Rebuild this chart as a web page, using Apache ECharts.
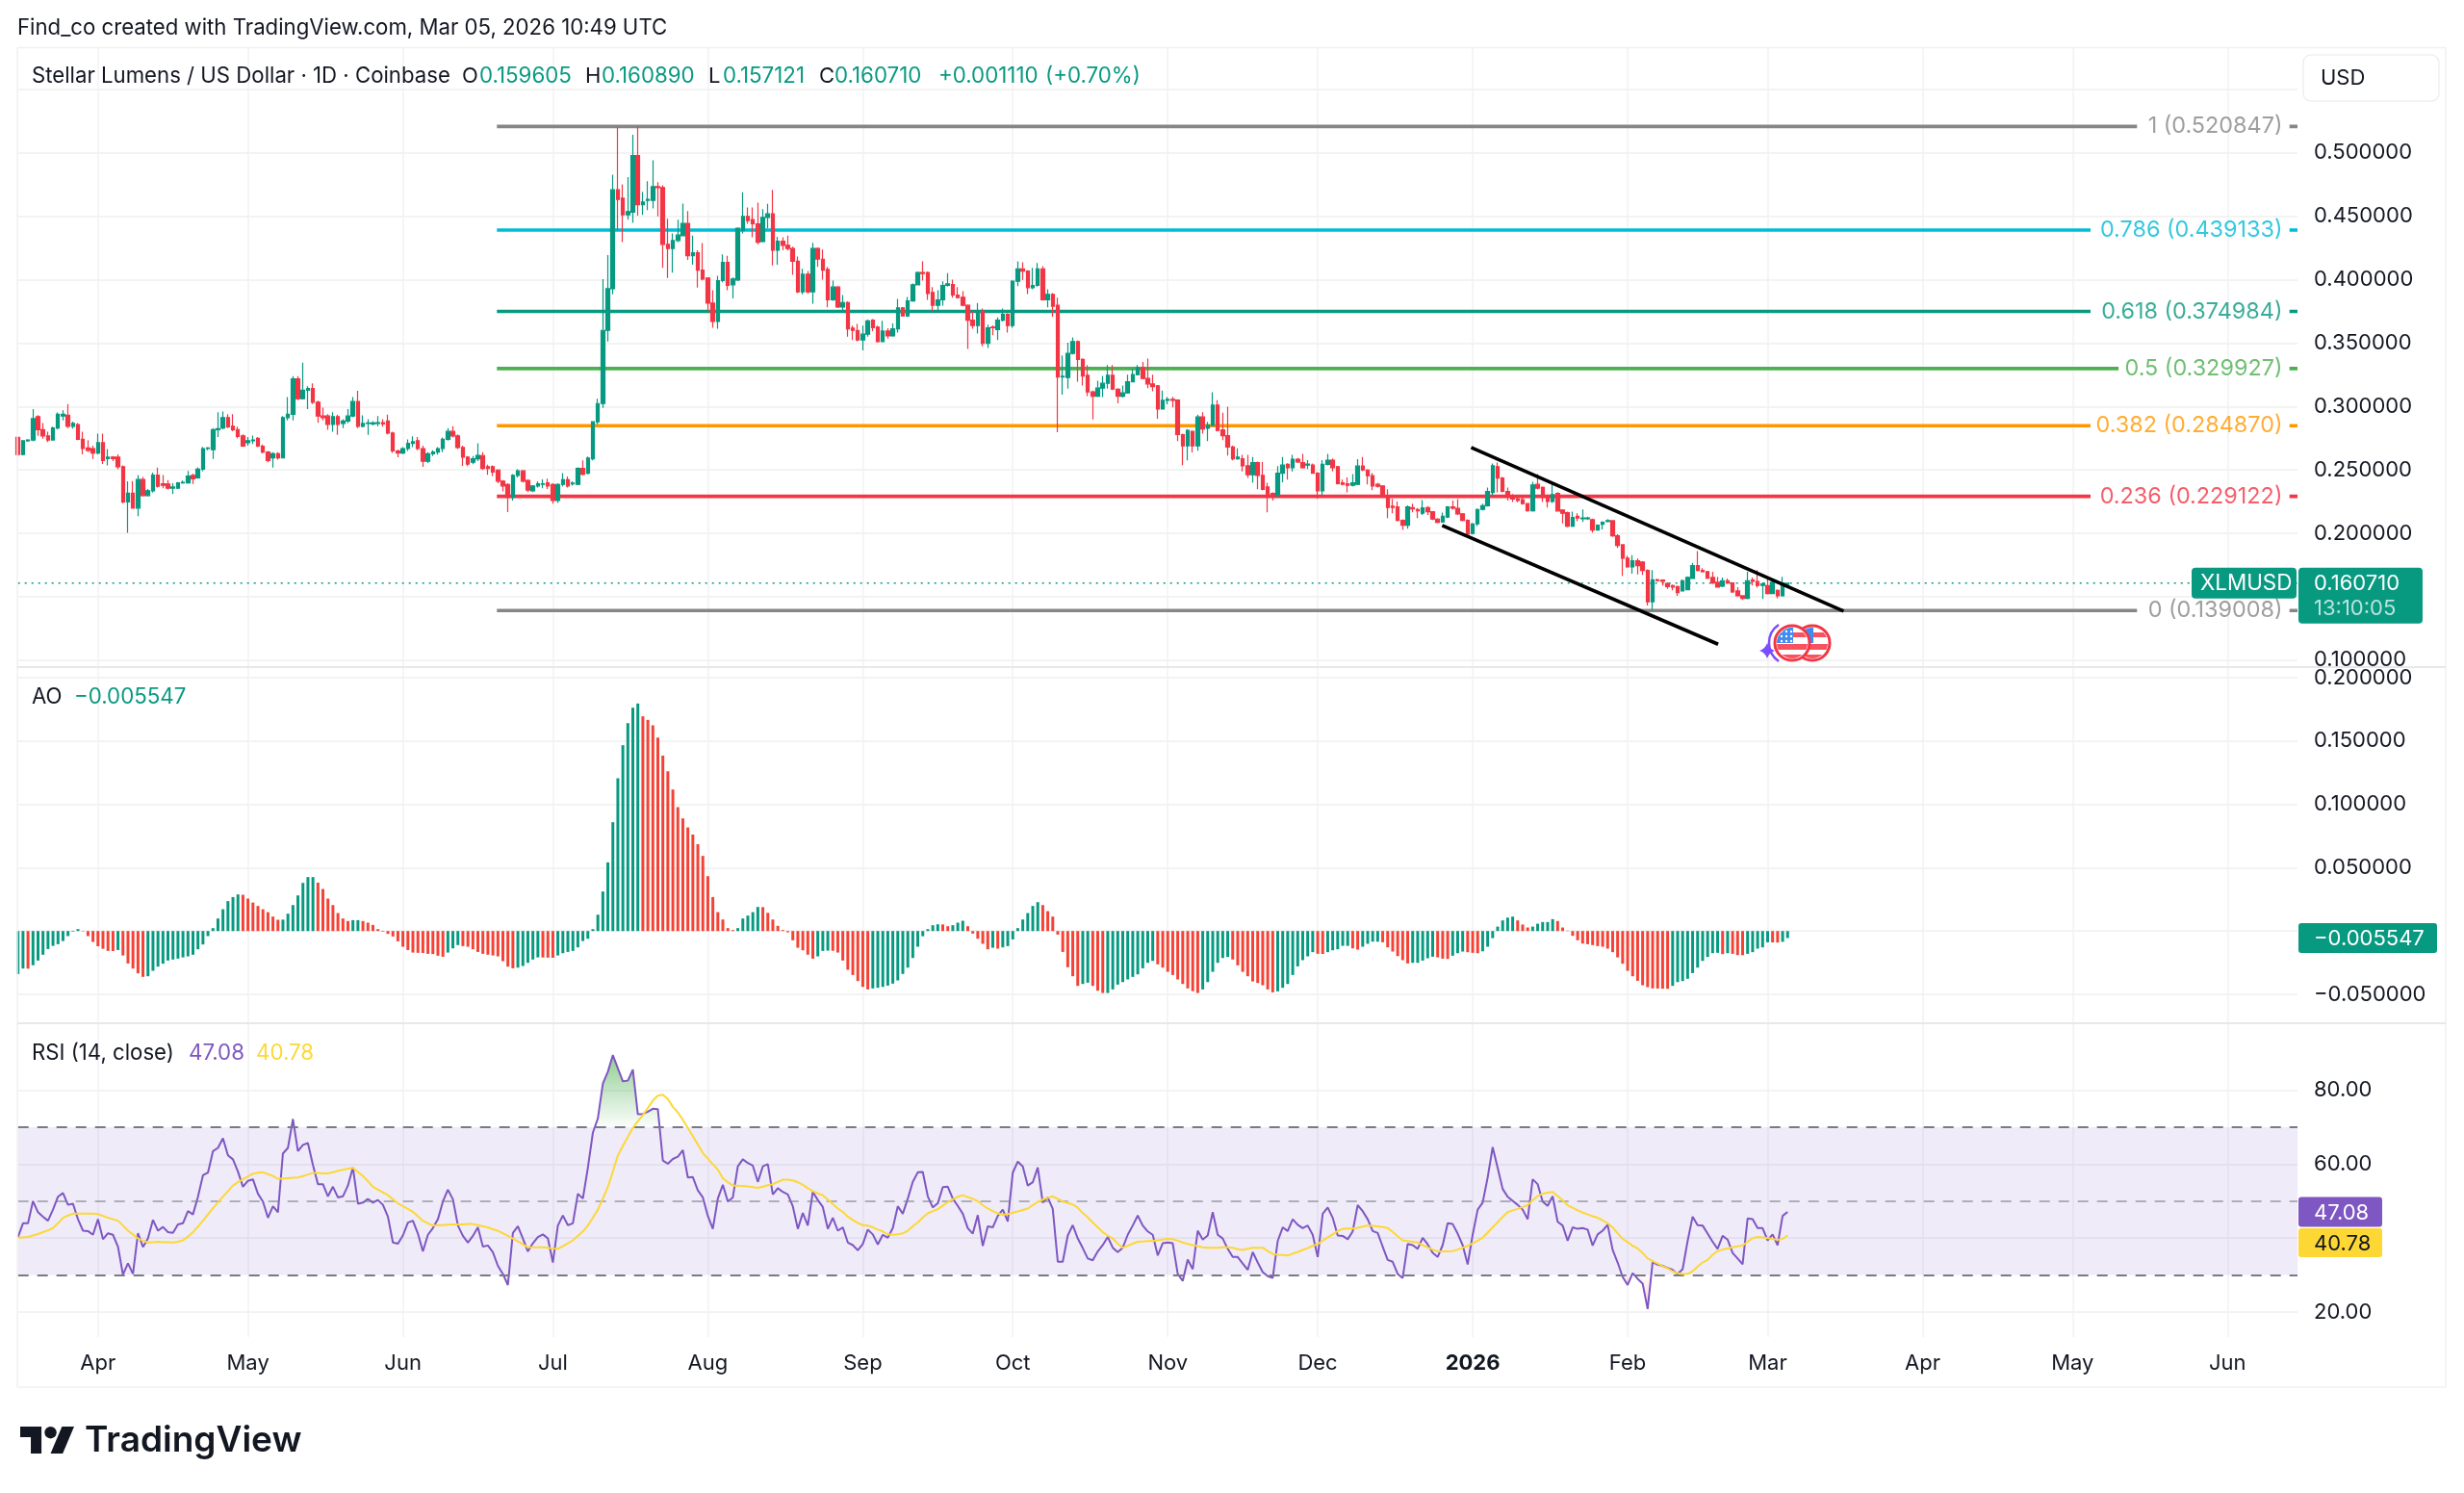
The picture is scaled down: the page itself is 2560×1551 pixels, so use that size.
<!DOCTYPE html>
<html>
<head>
<meta charset="utf-8">
<title>XLMUSD daily</title>
<style>
html,body{margin:0;padding:0;background:#fff}
#chart{width:2560px;height:1551px}
</style>
<script src="https://cdn.jsdelivr.net/npm/echarts@6/dist/echarts.min.js"></script>
</head>
<body>
<div id="chart"></div>
<script>
// Daily candles: [open, close, low, high]. Slot 0 is 16 Mar 2025.
const candlesMar25 = [
[.2757,.2622,.2611,.2763],[.2622,.2730,.2615,.2735],[.2730,.2736,.2722,.2742],[.2736,.2904,.2725,.2980],
[.2920,.2817,.2768,.2931],[.2817,.2768,.2745,.2870],[.2768,.2736,.2720,.2800],[.2736,.2831,.2733,.2840],
[.2831,.2939,.2820,.2953],[.2925,.2939,.2890,.2970],[.2931,.2844,.2830,.3020],[.2844,.2866,.2825,.2880],
[.2858,.2741,.2735,.2870],[.2741,.2668,.2622,.2800],[.2673,.2654,.2640,.2735],[.2668,.2633,.2587,.2690]];
const candlesApr25 = [
[.2633,.2714,.2622,.2785],[.2714,.2573,.2546,.2785],[.2590,.2600,.2535,.2665],[.2600,.2590,.2570,.2610],
[.2600,.2524,.2505,.2622],[.2524,.2248,.2235,.2535],[.2248,.2316,.2004,.2410],[.2316,.2199,.2193,.2411],
[.2199,.2424,.2134,.2459],[.2424,.2297,.2290,.2445],[.2297,.2335,.2290,.2350],[.2335,.2459,.2320,.2478],
[.2459,.2370,.2360,.2519],[.2390,.2378,.2355,.2460],[.2389,.2356,.2345,.2420],[.2356,.2365,.2310,.2395],
[.2356,.2397,.2350,.2405],[.2397,.2402,.2390,.2415],[.2397,.2451,.2390,.2492],[.2456,.2429,.2389,.2470],
[.2437,.2505,.2430,.2520],[.2505,.2668,.2490,.2682],[.2668,.2673,.2655,.2680],[.2660,.2817,.2587,.2830],
[.2817,.2825,.2760,.2955],[.2831,.2912,.2820,.2960],[.2912,.2839,.2830,.2940],[.2844,.2817,.2805,.2939],
[.2817,.2763,.2750,.2840],[.2768,.2687,.2682,.2780]];
const candlesMay25 = [
[.2714,.2730,.2690,.2760],[.2730,.2736,.2705,.2770],[.2749,.2687,.2680,.2760],[.2687,.2641,.2630,.2700],
[.2641,.2573,.2560,.2650],[.2595,.2627,.2519,.2640],[.2627,.2595,.2580,.2640],[.2595,.2912,.2590,.2925],
[.2912,.2939,.2890,.3075],[.2939,.3218,.2890,.3240],[.3218,.3061,.3050,.3240],[.3061,.3129,.3055,.3345],
[.3129,.3142,.2980,.3160],[.3142,.3034,.3020,.3183],[.3034,.2925,.2871,.3045],[.2925,.2912,.2890,.2990],
[.2925,.2858,.2817,.2940],[.2858,.2920,.2800,.2955],[.2920,.2858,.2776,.2935],[.2866,.2885,.2830,.2900],
[.2885,.2925,.2870,.2980],[.2925,.3039,.2915,.3075],[.3039,.2844,.2830,.3123],[.2844,.2866,.2835,.2930],
[.2866,.2870,.2776,.2900],[.2862,.2870,.2850,.2885],[.2866,.2872,.2845,.2925],[.2872,.2862,.2840,.2900],
[.2885,.2790,.2780,.2935],[.2790,.2649,.2633,.2800],[.2649,.2633,.2600,.2660]];
const candlesJun25 = [
[.2633,.2668,.2625,.2680],[.2668,.2709,.2650,.2740],[.2709,.2722,.2680,.2765],[.2730,.2668,.2655,.2760],
[.2668,.2568,.2524,.2690],[.2568,.2627,.2555,.2640],[.2627,.2641,.2610,.2655],[.2641,.2668,.2620,.2680],
[.2668,.2741,.2640,.2755],[.2741,.2803,.2730,.2830],[.2803,.2768,.2755,.2844],[.2768,.2676,.2665,.2780],
[.2676,.2600,.2532,.2690],[.2600,.2546,.2530,.2610],[.2560,.2587,.2545,.2610],[.2587,.2614,.2570,.2709],
[.2613,.2512,.2500,.2640],[.2525,.2512,.2462,.2540],[.2525,.2482,.2451,.2535],[.2499,.2411,.2395,.2505],
[.2411,.2373,.2330,.2420],[.2385,.2284,.2167,.2395],[.2284,.2456,.2259,.2466],[.2456,.2492,.2440,.2505],
[.2492,.2411,.2400,.2500],[.2416,.2340,.2325,.2425],[.2335,.2373,.2325,.2380],[.2373,.2391,.2360,.2410],
[.2386,.2391,.2355,.2425],[.2398,.2373,.2350,.2430]];
const candlesJul25 = [
[.2385,.2259,.2234,.2395],[.2259,.2385,.2240,.2395],[.2386,.2423,.2370,.2474],[.2423,.2373,.2360,.2448],
[.2390,.2395,.2375,.2410],[.2386,.2512,.2380,.2520],[.2512,.2466,.2455,.2575],[.2474,.2593,.2465,.2606],
[.2588,.2879,.2575,.2885],[.2879,.3023,.2860,.3061],[.3023,.3600,.2988,.4005],[.3600,.3929,.3512,.4195],
[.3929,.4709,.3884,.4828],[.4709,.4633,.4385,.5200],[.4643,.4512,.4296,.4752],[.4512,.4537,.4474,.4810],
[.4532,.4980,.4448,.5144],[.4980,.4592,.4506,.5208],[.4592,.4613,.4512,.4694],[.4625,.4633,.4549,.4777],
[.4625,.4734,.4562,.4942],[.4734,.4727,.4499,.4770],[.4727,.4279,.4094,.4744],[.4279,.4246,.4013,.4481],
[.4246,.4309,.4056,.4365],[.4309,.4352,.4296,.4474],[.4347,.4443,.4347,.4600],[.4443,.4190,.4157,.4542],
[.4190,.4213,.4119,.4347],[.4213,.4076,.3937,.4233],[.4076,.4005,.3995,.4289]];
const candlesAug25 = [
[.4013,.3815,.3752,.4020],[.3815,.3671,.3621,.3917],[.3671,.3993,.3613,.4031],[.3993,.4137,.3980,.4200],
[.4137,.3955,.3917,.4188],[.3960,.4005,.3853,.4020],[.3998,.4405,.3990,.4412],[.4390,.4499,.4365,.4689],
[.4499,.4466,.4441,.4570],[.4474,.4441,.4334,.4570],[.4441,.4296,.4279,.4608],[.4301,.4491,.4295,.4557],
[.4491,.4519,.4405,.4598],[.4519,.4233,.4112,.4709],[.4233,.4304,.4119,.4339],[.4304,.4271,.4233,.4334],
[.4271,.4246,.4230,.4347],[.4246,.4145,.4038,.4260],[.4145,.3904,.3895,.4182],[.3904,.4043,.3884,.4086],
[.4043,.3904,.3891,.4069],[.3904,.4246,.3810,.4291],[.4246,.4162,.4101,.4255],[.4162,.4076,.4000,.4238],
[.4081,.3841,.3783,.4101],[.3841,.3942,.3833,.3993],[.3942,.3785,.3777,.3950],[.3785,.3820,.3760,.3879],
[.3820,.3613,.3550,.3830],[.3618,.3600,.3524,.3638],[.3600,.3524,.3515,.3651]];
const candlesSep25 = [
[.3524,.3570,.3443,.3638],[.3570,.3676,.3550,.3685],[.3681,.3621,.3595,.3690],[.3626,.3512,.3505,.3638],
[.3512,.3595,.3508,.3676],[.3595,.3557,.3535,.3618],[.3557,.3613,.3550,.3656],[.3613,.3778,.3583,.3848],
[.3778,.3714,.3710,.3785],[.3714,.3833,.3707,.3864],[.3833,.3960,.3825,.3970],[.3960,.4056,.3955,.4065],
[.4056,.4048,.3993,.4145],[.4056,.3891,.3841,.4065],[.3899,.3798,.3747,.3942],[.3798,.3841,.3757,.3917],
[.3841,.3955,.3795,.3988],[.3955,.3967,.3945,.4051],[.3962,.3879,.3859,.4000],[.3879,.3859,.3852,.3942],
[.3861,.3798,.3790,.3909],[.3798,.3681,.3454,.3805],[.3681,.3638,.3613,.3747],[.3638,.3752,.3575,.3816],
[.3752,.3499,.3474,.3772],[.3499,.3621,.3461,.3646],[.3626,.3621,.3562,.3640],[.3606,.3681,.3524,.3702],
[.3681,.3727,.3670,.3772],[.3727,.3638,.3583,.3735]];
const candlesOct25 = [
[.3638,.3988,.3621,.3995],[.3988,.4086,.3950,.4145],[.4086,.4068,.3998,.4137],[.4068,.3937,.3886,.4075],
[.3937,.3955,.3925,.4094],[.3955,.4086,.3945,.4132],[.4086,.3841,.3835,.4106],[.3841,.3884,.3782,.3925],
[.3884,.3790,.3709,.3895],[.3798,.3233,.2798,.3858],[.3233,.3238,.3094,.3403],[.3228,.3418,.3140,.3504],
[.3418,.3512,.3410,.3545],[.3512,.3372,.3195,.3520],[.3372,.3241,.3165,.3380],[.3246,.3115,.3081,.3327],
[.3115,.3081,.2897,.3125],[.3081,.3145,.3075,.3203],[.3145,.3183,.3074,.3241],[.3183,.3246,.3140,.3327],
[.3246,.3137,.3130,.3327],[.3137,.3081,.3024,.3145],[.3081,.3107,.3070,.3165],[.3107,.3195,.3100,.3251],
[.3195,.3251,.3190,.3297],[.3251,.3307,.3245,.3327],[.3307,.3221,.3215,.3352],[.3221,.3178,.3145,.3378],
[.3178,.3157,.3119,.3251],[.3163,.2980,.2904,.3170],[.2980,.3048,.2975,.3125]];
const candlesNov25 = [
[.3048,.3056,.3018,.3074],[.3056,.3048,.2993,.3076],[.3051,.2778,.2727,.3058],[.2778,.2689,.2537,.2785],
[.2689,.2811,.2575,.2821],[.2803,.2689,.2638,.2810],[.2689,.2917,.2651,.2935],[.2917,.2823,.2785,.2955],
[.2828,.2854,.2727,.2879],[.2849,.3011,.2845,.3112],[.3011,.2811,.2803,.3049],[.2816,.2770,.2735,.2950],
[.2770,.2681,.2613,.2998],[.2681,.2588,.2575,.2690],[.2588,.2601,.2580,.2669],[.2588,.2532,.2487,.2619],
[.2532,.2461,.2436,.2619],[.2461,.2558,.2398,.2601],[.2558,.2456,.2347,.2565],[.2456,.2347,.2340,.2563],
[.2365,.2309,.2165,.2398],[.2314,.2297,.2259,.2322],[.2297,.2474,.2290,.2530],[.2474,.2538,.2403,.2601],
[.2543,.2517,.2423,.2552],[.2517,.2584,.2487,.2619],[.2584,.2563,.2555,.2594],[.2558,.2517,.2510,.2627],
[.2538,.2545,.2507,.2576],[.2538,.2474,.2468,.2550]];
const candlesDec25 = [
[.2474,.2335,.2272,.2482],[.2335,.2543,.2297,.2576],[.2543,.2576,.2535,.2627],[.2576,.2517,.2487,.2590],
[.2525,.2391,.2386,.2532],[.2398,.2386,.2378,.2423],[.2391,.2378,.2322,.2441],[.2378,.2398,.2370,.2467],
[.2386,.2530,.2380,.2584],[.2530,.2499,.2490,.2601],[.2499,.2454,.2386,.2505],[.2454,.2373,.2340,.2474],
[.2386,.2370,.2360,.2398],[.2373,.2297,.2290,.2380],[.2297,.2203,.2119,.2348],[.2213,.2203,.2157,.2272],
[.2208,.2101,.2095,.2251],[.2101,.2063,.2026,.2110],[.2063,.2208,.2036,.2221],[.2203,.2193,.2165,.2233],
[.2188,.2178,.2120,.2200],[.2158,.2200,.2145,.2261],[.2203,.2170,.2145,.2215],[.2170,.2112,.2105,.2175],
[.2112,.2087,.2080,.2120],[.2089,.2133,.2083,.2163],[.2128,.2208,.2120,.2215],[.2208,.2198,.2185,.2259],
[.2196,.2153,.2145,.2269],[.2153,.2101,.2095,.2160],[.2101,.1994,.1976,.2110]];
const candlesJan26 = [
[.1998,.2074,.1990,.2082],[.2074,.2188,.2056,.2195],[.2188,.2218,.2180,.2233],[.2218,.2330,.2210,.2360],
[.2322,.2532,.2297,.2550],[.2525,.2436,.2322,.2558],[.2436,.2330,.2322,.2445],[.2330,.2289,.2259,.2360],
[.2297,.2271,.2246,.2310],[.2271,.2259,.2245,.2285],[.2264,.2234,.2225,.2290],[.2234,.2178,.2170,.2240],
[.2178,.2381,.2170,.2406],[.2386,.2356,.2345,.2467],[.2361,.2284,.2246,.2370],[.2297,.2251,.2203,.2305],
[.2251,.2305,.2240,.2386],[.2315,.2176,.2170,.2325],[.2183,.2158,.2077,.2190],[.2163,.2056,.2048,.2170],
[.2056,.2125,.2050,.2170],[.2133,.2120,.2095,.2158],[.2115,.2120,.2089,.2188],[.2115,.2120,.2105,.2130],
[.2107,.2026,.2006,.2115],[.2026,.2063,.2020,.2070],[.2071,.2087,.2031,.2095],[.2094,.2099,.2085,.2112],
[.2099,.1980,.1972,.2105],[.1980,.1904,.1884,.1992],[.1909,.1803,.1664,.1915]];
const candlesFeb26 = [
[.1803,.1735,.1728,.1823],[.1735,.1783,.1681,.1828],[.1783,.1745,.1676,.1803],[.1773,.1707,.1671,.1780],
[.1707,.1459,.1431,.1715],[.1459,.1633,.1393,.1709],[.1633,.1626,.1620,.1642],[.1631,.1621,.1588,.1638],
[.1605,.1580,.1562,.1612],[.1588,.1575,.1550,.1595],[.1580,.1532,.1507,.1587],[.1545,.1626,.1540,.1635],
[.1555,.1651,.1550,.1660],[.1644,.1745,.1640,.1766],[.1745,.1707,.1700,.1859],[.1707,.1697,.1690,.1725],
[.1697,.1646,.1640,.1703],[.1651,.1608,.1600,.1697],[.1613,.1575,.1570,.1656],[.1583,.1626,.1575,.1651],
[.1626,.1608,.1600,.1644],[.1608,.1537,.1530,.1615],[.1545,.1507,.1500,.1575],[.1507,.1487,.1474,.1512],
[.1487,.1626,.1480,.1697],[.1631,.1621,.1588,.1651],[.1619,.1588,.1570,.1709],[.1588,.1601,.1482,.1612]];
const candlesMar26 = [
[.1588,.1525,.1518,.1644],[.1525,.1613,.1520,.1625],[.1550,.1507,.1487,.1558],[.1507,.1606,.1500,.1656],
[.159605,.160710,.157121,.160890]];

const fibRatios = ['1','0.786','0.618','0.5','0.382','0.236','0'];
const fibLevels = [0.520847,0.439133,0.374984,0.329927,0.284870,0.229122,0.139008];
const fibColors = ['#868686','#00bcd4','#089981','#4caf50','#ff9800','#f23645','#868686'];
const fibStartSlot = 95.8;
const fibEndSlots = [423.9,414.6,414.6,420.2,414.6,414.6,423.9];

const channelUpper = [[290.7,.2677],[365.2,.1386]];
const channelLower = [[284.9,.2061],[340.1,.1125]];

const lastClose = 0.160710;

const aoValues = [
-.034,-.0296,-.0297,-.027,-.0233,-.0187,-.0142,-.0117,-.0104,-.0079,-.004,-.0005,.0015,-.0003,-.004,-.0086,-.012,-.014,-.0157,-.0158,
-.015,-.0193,-.0256,-.0296,-.0334,-.0362,-.0357,-.0314,-.0281,-.0258,-.0233,-.0225,-.0218,-.0208,-.02,-.0187,-.0144,-.0106,-.004,.0023,
.0099,.0172,.0236,.0268,.0289,.0286,.0256,.0225,.0198,.0172,.0149,.0114,.0089,.009,.0137,.0205,.0281,.038,.0426,.0426,
.0382,.0332,.0256,.0205,.0142,.0099,.0079,.0086,.0086,.0079,.0066,.0048,.0015,-.0005,-.0023,-.0043,-.0081,-.0124,-.015,-.017,
-.0172,-.0173,-.018,-.0182,-.0195,-.0203,-.017,-.0137,-.0111,-.0119,-.0124,-.0144,-.0165,-.018,-.0187,-.0193,-.02,-.0238,-.0281,-.0294,
-.0289,-.0276,-.0251,-.0225,-.0208,-.0209,-.021,-.0211,-.0193,-.0175,-.0165,-.0157,-.0129,-.0079,-.0061,.0015,.0129,.0312,.0542,.0859,
.1206,.1467,.1641,.1763,.1796,.1695,.1667,.1624,.1527,.1385,.1261,.1117,.0978,.0889,.0818,.0762,.0686,.0593,.0433,.0268,
.0149,.0091,.0023,.0008,.0023,.0099,.0122,.0149,.019,.0189,.0144,.0091,.0041,.0008,-.001,-.0073,-.0132,-.0152,-.0187,-.0218,
-.02,-.0157,-.0155,-.0156,-.017,-.0233,-.0306,-.0347,-.0395,-.0441,-.0461,-.0453,-.0448,-.0441,-.0431,-.0415,-.039,-.0339,-.0289,-.0213,
-.0124,-.0041,.0015,.0046,.0053,.0052,.0038,.0046,.0066,.0081,.0038,-.002,-.0061,-.0101,-.0144,-.0132,-.0139,-.0129,-.0119,-.0066,
.0023,.0091,.0142,.0198,.0228,.0205,.0157,.0114,-.0028,-.0165,-.0286,-.0357,-.0433,-.0418,-.0408,-.0433,-.0471,-.0489,-.0489,-.0461,
-.0423,-.0403,-.0382,-.0362,-.0342,-.0294,-.0251,-.0236,-.0263,-.0289,-.0322,-.0347,-.0382,-.0418,-.0453,-.0474,-.0489,-.0461,-.0403,-.0322,
-.0251,-.0213,-.0205,-.0225,-.0271,-.0322,-.0357,-.0398,-.041,-.0428,-.0461,-.0484,-.0476,-.0448,-.0418,-.0347,-.0279,-.023,-.02,-.0167,
-.018,-.0181,-.0167,-.0152,-.0144,-.0117,-.0117,-.0137,-.0147,-.0124,-.0101,-.0084,-.0084,-.0089,-.0129,-.0162,-.0198,-.023,-.0256,-.0251,
-.0251,-.0233,-.0215,-.0203,-.0208,-.0218,-.022,-.0195,-.0175,-.0162,-.0167,-.0172,-.0175,-.016,-.0124,-.0056,.0035,.0084,.0106,.0114,
.0084,.0051,.0028,.0035,.0058,.0071,.0071,.0094,.0079,.0028,.0003,-.0038,-.0073,-.0099,-.0104,-.0111,-.0119,-.0124,-.0139,-.0167,
-.0208,-.0258,-.0314,-.0357,-.0393,-.0428,-.0443,-.0453,-.0454,-.0455,-.0456,-.0433,-.0403,-.0395,-.0377,-.0332,-.0289,-.0236,-.0205,-.0175,
-.0172,-.0182,-.0175,-.018,-.019,-.0191,-.018,-.0167,-.0139,-.0129,-.0089,-.009,-.0091,-.0085,-.005547];

const rsiValues = [
40.3,44,44,50,47,45.8,44.7,47.7,51.2,52.2,49,49.3,45.1,42,41.9,40.9,45.1,39.7,41.3,40.9,
37.7,30.1,33.2,30.3,41.3,37.6,39.9,44.9,42,43,41.6,41.4,43.7,44,47.3,46.4,51.2,57,57.7,63.5,
64.4,67,62.4,61.3,58,53.9,55.5,55.9,52,49.9,45.5,48.6,47,62.9,64.4,72.2,63.5,65.2,65.7,59.8,
54.6,54.6,51.3,53.9,51,51.3,54.2,59.1,49.3,49.6,50.6,49.6,50.3,49,45.8,38.8,38.5,40.7,44.2,44.7,
41.2,36.4,40.9,42.7,45.1,49.9,53.1,50.5,43.4,40.6,38.8,40.6,42.9,37.7,38,36.2,32.5,30.3,27.3,41.4,
43.2,39.9,36.4,38.6,40.3,41,39.9,33.4,43.4,46.1,43.5,44,52,50.7,59,68.5,72.4,81.8,85,89.5,
85.9,82.4,82.6,85.6,73.5,73.6,74.2,75,74.9,61,60.1,61.4,62,63.8,56.4,56.5,52.9,51,46,42.5,
50.7,54.4,49.9,51,59.4,61.3,60.3,59.6,55.2,59.4,60,51.8,53.5,52.5,51.8,48.6,42.5,46.8,43.4,52.5,
50.3,48.4,42.5,45.5,42,42.9,38.8,38.1,36.7,38.4,42.3,41,38.3,40.9,40.1,42.7,48.6,46.6,50.7,55.2,
57.8,57.9,51.3,48.3,49.4,53.8,53.9,50.7,48.7,46.6,42.7,41.2,46.2,37.9,43.2,42.9,46,47.7,44.5,57.7,
60.7,59.4,54.2,55.1,59.1,49.6,51,47.9,33.6,33.6,40.7,43.5,39.9,37.3,34.5,34,36.4,38.1,40.3,37.4,
36.2,37.4,40.9,43.4,46.1,43.4,41.8,40.9,35.3,38.6,38.8,38.6,30.3,28.4,34.2,31.6,42,39.6,40.7,47,
40.9,39.9,37.1,34.9,34.9,33.1,31.4,36.2,33.4,30.8,29.7,29.2,39.2,42.9,41.9,45.1,43.6,42.7,43.4,40.9,
34.9,46.6,48.3,45.5,40.7,40.6,39.7,41.8,48.9,47.3,45.1,41.9,41.4,37.7,34.1,33.6,30.3,29.2,38.4,38.1,
37.1,40.1,38.3,36,34.9,38.1,44,43.8,41.2,38.1,32.9,40.9,47.7,49.6,56.4,64.6,59,53.3,51.2,50.1,
49,47.7,45.1,55.9,54.6,49.9,48.7,51.3,44.4,43.4,39.3,42.9,42.5,42.7,42.3,38,41,42,43.6,36.8,
33.4,29.5,27.3,30.5,29,27.7,20.8,33.5,32.8,32.5,31.9,31.4,30.3,31.6,39.2,45.8,43.5,43.4,41.2,39,
37.1,40.6,39.6,36,34.5,32.9,45.3,45.1,42.7,42.7,39.4,41,38.1,46,47.08];

const rsiAverage = [
40.05,40.2,40.3,40.7,41.1,41.6,42.1,42.7,44,45.5,46.1,
46.6,46.6,46.6,46.6,46.6,46.5,46,45.5,45.1,44.7,
43.4,42,41,39.9,39.3,38.8,38.9,39,38.9,38.9,
38.8,39,39.4,40.4,41.6,43.1,44.7,46.4,48.1,49.6,
51.2,52.7,54.2,55.1,55.9,56.7,57.4,57.7,57.8,57.3,
56.8,56,56.1,56.2,56.3,56.4,56.8,57.2,57.6,57.6,
57.5,57.5,57.8,58.2,58.5,58.8,59,57.9,56.8,55.4,
53.9,53.1,52.4,51.6,50.5,49.4,48.6,47.9,47.1,45.9,
44.7,44,43.4,43.5,43.5,43.6,43.7,43.7,43.7,43.8,
43.8,43.5,43.2,42.9,42.4,42,41.3,40.6,39.9,39.1,
38.3,37.5,37.5,37.5,37.5,37.4,37.2,37.1,37.8,38.6,
39.4,40.6,41.8,43.4,45.5,47.7,50.7,53.8,58,62.4,
64.9,67.4,69.8,71.6,73.3,75.2,77.2,78.5,78.8,77.6,
75.5,74,72,69.8,67.6,65.3,63,61.5,60,58.5,
56.2,55.1,54.2,54.2,54.1,54,53.8,53.6,53.9,54.3,
54.6,55.2,55.8,55.8,55.6,55.1,54.4,53.5,52.7,52.1,
51.6,50.4,49.2,48,47.1,45.8,44.9,44.1,43.5,43.4,
42.9,42.3,41.8,41,40.9,41,41.3,42,43.2,44.2,
45.6,46.7,47.3,47.8,48.8,49.7,50.5,51.2,51.6,51.1,
50.6,50,48.9,48,47.3,46.7,46.3,46.5,46.9,47.2,
47.6,48,48.9,49.8,50.4,50.9,51.3,50.6,49.9,49.5,
49.1,48.2,46.8,45.6,44.2,42.9,41.6,40.7,39.9,38.5,
37.4,37.9,38.5,39,39.1,39.2,39.2,39.4,39.6,39.8,
39.7,39.3,38.8,38.4,38.1,37.8,37.5,37.4,37.4,37.4,
37.5,37.5,37.4,37,36.8,37.1,37.4,37.4,37.4,36.5,
35.7,35.5,35.4,35.3,35.8,36.2,36.8,37.3,37.9,38.4,
39.3,40.2,41,41.9,42.5,42.6,42.6,42.8,43.1,43.4,
43.3,43.2,43,42.7,41.7,40.5,39.4,39.2,39,38.8,
38.1,37.5,36.9,36.4,36.4,36.4,36.5,36.9,37.4,37.9,
38.6,39.3,40.1,41.5,42.9,44.3,45.7,47,47.5,47.9,
48.4,48.9,50.2,51.4,52,52.3,52.5,51.4,50.2,48.9,
48.2,47.5,46.9,46.4,45.9,45.5,44.8,44,42.9,41.3,
39.8,38.9,37.9,37.2,36,34.5,33.8,33.1,32.4,31.8,
31,30.5,30.3,30.3,31,32.3,33.4,34.1,35.5,36.5,
36.9,37.2,37.5,37.8,38,39,40,40.3,40.2,40,
39.8,39.5,39.8,40.78];

// Month boundaries on the time scale, counted in daily slots.
const monthSlots = [16,46,77,107,138,169,199,230,260,291,322,350,381,411,442];
const monthNames = ['Apr','May','Jun','Jul','Aug','Sep','Oct','Nov','Dec','2026','Feb','Mar','Apr','May','Jun'];

const SLOT_COUNT = 456;
const UP = '#089981', DOWN = '#f23645';
const FONT = 'Inter, "Noto Sans", sans-serif';
const TEXT = '#131722';
const GRID_LINE = '#f3f3f3';

const candles = [].concat(candlesMar25,candlesApr25,candlesMay25,candlesJun25,candlesJul25,candlesAug25,
  candlesSep25,candlesOct25,candlesNov25,candlesDec25,candlesJan26,candlesFeb26,candlesMar26);

const gridBase = {left:18.7,width:2368.3,show:false};
const axisFont = {color:TEXT,fontFamily:FONT,fontSize:22,margin:17,padding:[5,0,0,0]};
const slotAxis = i => ({gridIndex:i,type:'value',min:0,max:SLOT_COUNT,show:false});
const paneY = (i,extra) => Object.assign({
  gridIndex:i,type:'value',position:'right',scale:false,
  axisLine:{show:false},axisTick:{show:false},
  splitLine:{show:true,lineStyle:{color:GRID_LINE,width:2}},
},extra);
const minus = s => s.replace('-','\u2212');

// Shaded pocket between the RSI curve and a band edge.
function rsiPocket(level,above,colors){
  return {
    type:'custom',xAxisIndex:2,yAxisIndex:2,silent:true,z:2,
    data:[[0,level]],
    renderItem(params,api){
      const children=[];
      let run=null;
      const isIn=v=>above?v>level:v<level;
      rsiValues.forEach((v,i)=>{
        if(i>0 && isIn(v)!==isIn(rsiValues[i-1])){
          const prev=rsiValues[i-1];
          const edge=api.coord([i-1+(level-prev)/(v-prev),level]);
          if(isIn(v)){
            run=[edge];
          }else if(run){
            run.push(edge);
            children.push({type:'polygon',shape:{points:run},
              style:{fill:new echarts.graphic.LinearGradient(0,0,0,1,colors)}});
            run=null;
          }
        }
        if(isIn(v)&&run) run.push(api.coord([i,v]));
      });
      return {type:'group',children};
    }
  };
}

const series = [
  {type:'candlestick',xAxisIndex:0,yAxisIndex:0,barWidth:4,z:3,
   encode:{x:0,y:[1,2,3,4]},
   itemStyle:{color:UP,color0:DOWN,borderColor:UP,borderColor0:DOWN,borderWidth:1.2},
   data:candles.map((c,i)=>[i].concat(c))},
  {type:'line',xAxisIndex:0,yAxisIndex:0,symbol:'none',silent:true,z:2,
   lineStyle:{color:UP,width:1.6,type:[2,5]},
   data:[[0,lastClose],[SLOT_COUNT,lastClose]]},
  {type:'line',xAxisIndex:0,yAxisIndex:0,symbol:'none',silent:true,z:5,
   lineStyle:{color:'#000',width:3.6},data:channelUpper},
  {type:'line',xAxisIndex:0,yAxisIndex:0,symbol:'none',silent:true,z:5,
   lineStyle:{color:'#000',width:3.6},data:channelLower},
  {type:'bar',xAxisIndex:1,yAxisIndex:1,barWidth:3,
   data:aoValues.map((v,i)=>({value:[i,v],
     itemStyle:{color:(i===0||v>=aoValues[i-1])?'#089981':'#f44336'}}))},
  {type:'line',xAxisIndex:2,yAxisIndex:2,symbol:'none',silent:true,z:4,
   lineStyle:{color:'#7e57c2',width:2},
   data:rsiValues.map((v,i)=>[i,v]),
   markArea:{silent:true,itemStyle:{color:'rgba(126,87,194,0.12)'},
     data:[[{xAxis:0,yAxis:70},{xAxis:SLOT_COUNT,yAxis:30}]]},
   markLine:{silent:true,symbol:'none',label:{show:false},
     data:[
       {yAxis:70,lineStyle:{color:'#787b86',width:2,type:[11,9]}},
       {yAxis:50,lineStyle:{color:'rgba(120,123,134,0.55)',width:2,type:[11,9]}},
       {yAxis:30,lineStyle:{color:'#787b86',width:2,type:[11,9]}}
     ]}},
  {type:'line',xAxisIndex:2,yAxisIndex:2,symbol:'none',silent:true,z:5,
   lineStyle:{color:'#fdd835',width:2},
   data:rsiAverage.map((v,i)=>[i,v])},
  rsiPocket(70,true,[{offset:0,color:'rgba(76,175,80,0.62)'},{offset:1,color:'rgba(76,175,80,0.02)'}]),
  rsiPocket(30,false,[{offset:0,color:'rgba(242,54,69,0.02)'},{offset:1,color:'rgba(242,54,69,0.22)'}])
];

// Fibonacci retracement: level line, caption and the short stub at the price scale.
fibLevels.forEach((lvl,k)=>{
  const c=fibColors[k];
  series.push({type:'line',xAxisIndex:0,yAxisIndex:0,symbol:'none',silent:true,z:1,
    lineStyle:{color:c,width:3.6},data:[[fibStartSlot,lvl],[fibEndSlots[k],lvl]]});
  series.push({type:'line',xAxisIndex:0,yAxisIndex:0,symbol:'none',silent:true,z:1,
    lineStyle:{color:c,width:3.6},data:[[454.4,lvl],[SLOT_COUNT,lvl]]});
  series.push({type:'scatter',xAxisIndex:0,yAxisIndex:0,symbolSize:0,silent:true,z:6,
    data:[[453,lvl]],
    label:{show:true,position:'left',distance:0,color:c,fontFamily:FONT,fontSize:23.4,padding:[5,0,0,0],
      formatter:`${fibRatios[k]} (${lvl.toFixed(6)})`}});
});

const chart = echarts.init(document.getElementById('chart'),null,{renderer:'canvas'});
chart.setOption({
  animation:false,
  backgroundColor:'#fff',
  grid:[
    Object.assign({},gridBase,{top:93,height:592.7}),
    Object.assign({},gridBase,{top:704,height:329}),
    Object.assign({},gridBase,{top:1086.5,height:276.5}),
    Object.assign({},gridBase,{top:50,height:1339})
  ],
  xAxis:[slotAxis(0),slotAxis(1),slotAxis(2),
    {gridIndex:3,type:'value',min:0,max:SLOT_COUNT,position:'bottom',
     axisLine:{show:false},
     axisTick:{show:false,customValues:monthSlots},
     splitLine:{show:true,lineStyle:{color:'#f2f2f4',width:1.5}},
     axisLabel:{show:true,customValues:monthSlots,color:TEXT,fontFamily:FONT,fontSize:22,margin:16,
       formatter:v=>{
         const n=monthNames[monthSlots.indexOf(v)];
         return n==='2026'?'{y|2026}':n;
       },
       rich:{y:{fontWeight:700,color:TEXT,fontFamily:FONT,fontSize:22}}}}
  ],
  yAxis:[
    paneY(0,{min:.1,max:.55,interval:.05,axisLabel:Object.assign({},axisFont,{showMaxLabel:false,formatter:v=>v.toFixed(6)})}),
    paneY(1,{min:-.05,max:.2,interval:.05,axisLabel:Object.assign({},axisFont,{formatter:v=>Math.abs(v)<1e-9?'':minus(v.toFixed(6))})}),
    paneY(2,{min:20,max:92,interval:20,splitLine:{show:true,showMaxLine:false,lineStyle:{color:GRID_LINE,width:2}},
      axisLabel:Object.assign({},axisFont,{showMaxLabel:false,formatter:v=>v.toFixed(2)})}),
    {gridIndex:3,type:'value',min:0,max:1,show:false}
  ],
  series
});

// Text helper for the chrome around the panes.
const txt=(x,y,text,fill,size,weight)=>({type:'text',z:50,silent:true,
  style:{x,y:y+1,text,fill,font:`${weight||400} ${size}px ${FONT}`,verticalAlign:'middle',align:'left'}});
const box=(x,y,w,h,fill,r,z)=>({type:'rect',z:z||40,silent:true,shape:{x,y,width:w,height:h,r:r||0},style:{fill}});
const rule=(x1,y1,x2,y2,c,w)=>({type:'line',z:30,silent:true,shape:{x1,y1,x2,y2},style:{stroke:c,lineWidth:w}});

const priceY=chart.convertToPixel({gridIndex:0},[0,lastClose])[1];
const aoLast=aoValues[aoValues.length-1];
const rsiLast=rsiValues[rsiValues.length-1];
const maLast=rsiAverage[rsiAverage.length-1];
const rsiY=chart.convertToPixel({gridIndex:2},[0,rsiLast])[1];
const aoY=chart.convertToPixel({gridIndex:1},[0,aoLast])[1];
// The two RSI tags would collide on the scale, so the lower one stacks under the upper one.
const maTagY=rsiY+32;

const badge=encodeURIComponent(`<svg xmlns="http://www.w3.org/2000/svg" width="80" height="50" viewBox="0 0 80 50">
<defs><clipPath id="a"><circle cx="55" cy="25" r="16"/></clipPath><clipPath id="b"><circle cx="34" cy="25" r="16"/></clipPath></defs>
<path d="M20 6 A23 23 0 0 0 20 44" fill="none" stroke="#7c4dff" stroke-width="2.5"/>
<path d="M8 25 Q10 31 16 33 Q10 35 8 41 Q6 35 0 33 Q6 31 8 25Z" fill="#7c4dff"/>
<g id="f"><circle cx="55" cy="25" r="18" fill="#fff" stroke="#f23645" stroke-width="3"/>
<g clip-path="url(#a)"><rect x="39" y="9" width="32" height="32" fill="#fff"/><rect x="55" y="14" width="16" height="5" fill="#f7525f"/><rect x="39" y="26" width="32" height="6" fill="#f7525f"/><rect x="39" y="37" width="32" height="5" fill="#f7525f"/><rect x="39" y="9" width="17" height="16" fill="#3f8cf0"/></g></g>
<circle cx="34" cy="25" r="18" fill="#fff" stroke="#f23645" stroke-width="3"/>
<g clip-path="url(#b)"><rect x="18" y="9" width="32" height="32" fill="#fff"/><rect x="34" y="14" width="16" height="5" fill="#f7525f"/><rect x="18" y="26" width="32" height="6" fill="#f7525f"/><rect x="18" y="37" width="32" height="5" fill="#f7525f"/><rect x="18" y="9" width="17" height="16" fill="#3f8cf0"/>
<g fill="#fff"><circle cx="23" cy="13" r="1.2"/><circle cx="28" cy="13" r="1.2"/><circle cx="33" cy="13" r="1.2"/><circle cx="23" cy="18" r="1.2"/><circle cx="28" cy="18" r="1.2"/><circle cx="33" cy="18" r="1.2"/><circle cx="23" cy="23" r="1.2"/><circle cx="28" cy="23" r="1.2"/><circle cx="33" cy="23" r="1.2"/></g></g>
</svg>`);

// Wordmark glyph drawn on a 36x18 design box.
const logoX=u=>21+u*1.577, logoY=v=>1482+(v-4)*1.556;
const logoPoly=pts=>({type:'polygon',z:40,silent:true,shape:{points:pts.map(p=>[logoX(p[0]),logoY(p[1])])},style:{fill:TEXT}});

chart.setOption({graphic:{elements:[
  // frame and pane separators
  rule(18,49.5,2541,49.5,'#f0f0f0',1.5),rule(18,49.5,18,1441,'#f0f0f0',1.5),
  rule(2541,49.5,2541,1441,'#f0f0f0',1.5),rule(18,1441,2541,1441,'#f0f0f0',1.5),
  rule(18,693,2541,693,'#e8e8e8',2),rule(18,1063,2541,1063,'#e8e8e8',2),

  txt(18,28,'Find_co created with TradingView.com, Mar 05, 2026 10:49 UTC',TEXT,22.2),

  txt(33,78,'Stellar Lumens / US Dollar \u00b7 1D \u00b7 Coinbase',TEXT,22.2),
  txt(480,78,'O',TEXT,22),txt(498,78,'0.159605',UP,22.3),
  txt(608,78,'H',TEXT,22),txt(625,78,'0.160890',UP,22.3),
  txt(736,78,'L',TEXT,22),txt(751,78,'0.157121',UP,22.3),
  txt(851,78,'C',TEXT,22),txt(867,78,'0.160710',UP,22.3),
  txt(975,78,'+0.001110',UP,22.3),txt(1086,78,'(+0.70%)',UP,22.3),

  txt(33,723,'AO',TEXT,22.2),txt(77,723,'\u22120.005547',UP,22.3),
  txt(33,1093,'RSI (14, close)',TEXT,22.2),txt(196,1093,'47.08','#7e57c2',22.3),txt(266,1093,'40.78','#fdd835',22.3),

  // currency selector
  {type:'rect',z:40,silent:true,shape:{x:2393,y:57,width:141,height:48,r:8},style:{fill:'#fff',stroke:'#efefef',lineWidth:1.5}},
  txt(2411,80,'USD',TEXT,22),

  // last-value tags on the price scales
  box(2277,priceY-16,109,32,UP,4),
  txt(2286,priceY,'XLMUSD','#fff',22.4),
  box(2388,priceY-16,129,58,UP,4),
  txt(2404,priceY,lastClose.toFixed(6),'#fff',22),
  txt(2404,priceY+26,'13:10:05','rgba(255,255,255,0.72)',22),
  box(2388,aoY-15.5,144,31,UP,3),
  txt(2404,aoY,minus(aoLast.toFixed(6)),'#fff',22),
  box(2388,rsiY-15.5,87,31,'#7e57c2',3),
  txt(2404,rsiY,rsiLast.toFixed(2),'#fff',22),
  box(2388,maTagY-15,87,30,'#fdd835',3),
  txt(2404,maTagY,maLast.toFixed(2),TEXT,22),

  // calendar event markers
  {type:'image',z:20,silent:true,style:{image:'data:image/svg+xml,'+badge,x:1828,y:643,width:80,height:50}},

  // wordmark
  logoPoly([[14,22],[7,22],[7,11],[0,11],[0,4],[14,4]]),
  logoPoly([[28,22],[20,22],[27.5,4],[35.5,4]]),
  {type:'circle',z:40,silent:true,shape:{cx:logoX(20),cy:logoY(8),r:6.2},style:{fill:TEXT}},
  txt(88,1496,'TradingView',TEXT,37,600)
]}});
</script>
</body>
</html>
